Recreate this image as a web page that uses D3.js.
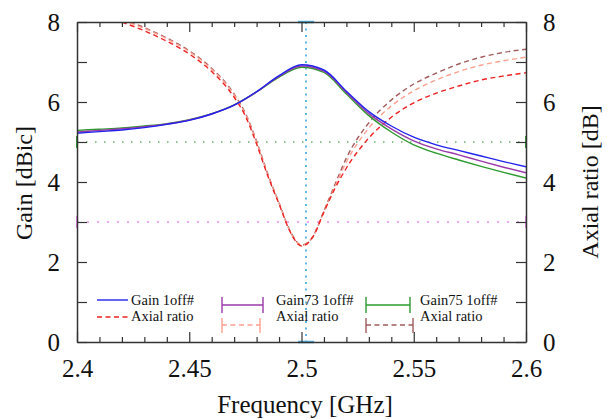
<!DOCTYPE html>
<html>
  <head>
    <script src="https://d3js.org/d3.v7.min.js"></script>
    <style>
      body { margin: 0; background: #fff; }
      svg text { font-family: "Liberation Serif", "Times New Roman", serif; }
    </style>
  </head>
  <body>
    <svg id="chart" width="615" height="419"></svg>
    <script>
      // frequency grid for the gain curves [GHz]
      const freqGain = [2.40, 2.41, 2.42, 2.43, 2.44, 2.45, 2.46, 2.47, 2.48, 2.49, 2.50,
                        2.51, 2.52, 2.53, 2.54, 2.55, 2.56, 2.57, 2.58, 2.59, 2.60];
      const gain1  = [5.22, 5.26, 5.30, 5.36, 5.44, 5.54, 5.70, 5.92, 6.26, 6.66, 6.93,
                      6.80, 6.27, 5.76, 5.40, 5.12, 4.93, 4.79, 4.65, 4.51, 4.38];
      const gain73 = [5.25, 5.29, 5.33, 5.38, 5.45, 5.55, 5.70, 5.92, 6.25, 6.64, 6.90,
                      6.77, 6.24, 5.71, 5.33, 5.03, 4.83, 4.68, 4.52, 4.37, 4.23];
      const gain75 = [5.29, 5.32, 5.35, 5.40, 5.46, 5.56, 5.71, 5.93, 6.25, 6.62, 6.87,
                      6.74, 6.20, 5.66, 5.25, 4.93, 4.72, 4.55, 4.39, 4.24, 4.10];

      // frequency grid for the axial ratio curves [GHz]
      const freqAR = [2.42, 2.43, 2.44, 2.45, 2.46, 2.47, 2.475, 2.48, 2.485, 2.49, 2.495, 2.50,
                      2.505, 2.51, 2.515, 2.52, 2.53, 2.54, 2.55, 2.56, 2.57, 2.58, 2.59, 2.60];
      const ar1  = [8.00, 7.78, 7.52, 7.20, 6.76, 6.12, 5.65, 4.95, 4.15, 3.45, 2.75, 2.40,
                    2.62, 3.25, 3.85, 4.35, 5.10, 5.62, 5.98, 6.22, 6.40, 6.55, 6.65, 6.73];
      const ar73 = [8.05, 7.84, 7.58, 7.26, 6.82, 6.18, 5.70, 5.00, 4.18, 3.47, 2.75, 2.42,
                    2.62, 3.25, 3.90, 4.50, 5.35, 5.90, 6.28, 6.55, 6.76, 6.92, 7.03, 7.12];
      const ar75 = [8.08, 7.86, 7.60, 7.28, 6.84, 6.20, 5.72, 5.02, 4.20, 3.48, 2.77, 2.42,
                    2.63, 3.28, 3.95, 4.60, 5.48, 6.05, 6.45, 6.72, 6.95, 7.12, 7.24, 7.32];

      const yLabels = [0, 2, 4, 6, 8];
      const gainRef = 5;      // dotted green line [dBic]
      const arRef = 3;        // dotted pink line [dB]
      const centerFreq = 2.502;

      const svg = d3.select("#chart");
      const pLeft = 77, pRight = 526, pTop = 22, pBottom = 342;
      const serif = '"Liberation Serif", "Times New Roman", serif';

      const x = d3.scaleLinear().domain([2.4, 2.6]).range([pLeft, pRight]);
      const yG = d3.scaleLinear().domain([0, 8]).range([pBottom, pTop]);
      const yA = d3.scaleLinear().domain([0, 8]).range([pBottom, pTop]);

      svg.append("clipPath").attr("id", "plotClip")
        .append("rect").attr("x", pLeft).attr("y", pTop)
        .attr("width", pRight - pLeft).attr("height", pBottom - pTop);

      // reference lines
      svg.append("line")
        .attr("x1", pLeft).attr("x2", pRight)
        .attr("y1", yG(gainRef)).attr("y2", yG(gainRef))
        .attr("stroke", "#1e8a1e").attr("stroke-width", 1.2)
        .attr("stroke-dasharray", "1.5,7.5");
      svg.append("line")
        .attr("x1", pLeft).attr("x2", pRight)
        .attr("y1", yA(arRef)).attr("y2", yA(arRef))
        .attr("stroke", "#f08cf0").attr("stroke-width", 1.4)
        .attr("stroke-dasharray", "2,8");
      svg.append("line")
        .attr("x1", x(centerFreq)).attr("x2", x(centerFreq))
        .attr("y1", pTop).attr("y2", pBottom)
        .attr("stroke", "#4fb0e0").attr("stroke-width", 1.8)
        .attr("stroke-dasharray", "2,4.5");

      // little caps of the reference lines on the axes
      [[pLeft, yG(gainRef), "#3aa03a"], [pRight, yG(gainRef), "#3aa03a"],
       [pLeft, yA(arRef), "#f08cf0"], [pRight, yA(arRef), "#f08cf0"]].forEach(c => {
        svg.append("line")
          .attr("x1", c[0]).attr("x2", c[0])
          .attr("y1", c[1] - 6).attr("y2", c[1] + 6)
          .attr("stroke", c[2]).attr("stroke-width", 2);
      });
      [pTop, pBottom].forEach(yy => {
        svg.append("line")
          .attr("x1", x(centerFreq) - 8).attr("x2", x(centerFreq) + 8)
          .attr("y1", yy).attr("y2", yy)
          .attr("stroke", "#4fb0e0").attr("stroke-width", 2.5);
      });

      const plot = svg.append("g").attr("clip-path", "url(#plotClip)");

      const gainLine = d3.line().x(d => x(d[0])).y(d => yG(d[1])).curve(d3.curveMonotoneX);
      const arLine = d3.line().x(d => x(d[0])).y(d => yA(d[1])).curve(d3.curveMonotoneX);

      const arSeries = [
        { vals: ar75, color: "#a05a5a" },
        { vals: ar73, color: "#ff9f90" },
        { vals: ar1,  color: "#ee2222" }
      ];
      arSeries.forEach(s => {
        plot.append("path")
          .datum(freqAR.map((f, i) => [f, s.vals[i]]))
          .attr("fill", "none")
          .attr("stroke", s.color)
          .attr("stroke-width", 1.4)
          .attr("stroke-dasharray", "5,3.5")
          .attr("d", arLine);
      });

      const gainSeries = [
        { vals: gain75, color: "#2e9a2e" },
        { vals: gain73, color: "#9a3aaa" },
        { vals: gain1,  color: "#2222ee" }
      ];
      gainSeries.forEach(s => {
        plot.append("path")
          .datum(freqGain.map((f, i) => [f, s.vals[i]]))
          .attr("fill", "none")
          .attr("stroke", s.color)
          .attr("stroke-width", 1.4)
          .attr("d", gainLine);
      });

      // axes
      const axisColor = "#333";
      const xTicks = d3.range(0, 21).map(i => 2.4 + i * 0.01);
      const isMajor = v => Math.abs(v * 20 - Math.round(v * 20)) < 1e-6;

      const xb = svg.append("g").attr("transform", `translate(0,${pBottom})`)
        .call(d3.axisBottom(x).tickValues(xTicks).tickSizeOuter(0)
          .tickFormat(v => isMajor(v) ? d3.format(".3~f")(v) : ""));
      xb.selectAll(".tick line").attr("y2", d => isMajor(d) ? -10 : -5);
      xb.selectAll(".tick text").attr("y", 35).attr("dy", null);

      const xt = svg.append("g").attr("transform", `translate(0,${pTop})`)
        .call(d3.axisTop(x).tickValues(xTicks).tickSizeOuter(0).tickFormat(""));
      xt.selectAll(".tick line").attr("y2", d => isMajor(d) ? 10 : 5);

      const yTicks = d3.range(0, 9);
      const yl = svg.append("g").attr("transform", `translate(${pLeft},0)`)
        .call(d3.axisLeft(yG).tickValues(yTicks).tickSizeOuter(0)
          .tickFormat(v => yLabels.includes(v) ? v : ""));
      yl.selectAll(".tick line").attr("x2", 10);
      yl.selectAll(".tick text").attr("x", -17);

      const yr = svg.append("g").attr("transform", `translate(${pRight},0)`)
        .call(d3.axisRight(yA).tickValues(yTicks).tickSizeOuter(0)
          .tickFormat(v => yLabels.includes(v) ? v : ""));
      yr.selectAll(".tick line").attr("x2", -10);
      yr.selectAll(".tick text").attr("x", 17);

      [xb, xt, yl, yr].forEach(g => {
        g.attr("font-family", serif).attr("font-size", 25);
        g.select(".domain").attr("stroke", axisColor).attr("stroke-width", 1.5);
        g.selectAll(".tick line").attr("stroke", axisColor).attr("stroke-width", 1.2);
        g.selectAll(".tick text").attr("fill", "#111")
          .style("font-family", serif).style("font-size", "25px");
      });

      // axis titles
      const titles = svg.append("g").style("font-family", serif)
        .attr("fill", "#111").attr("text-anchor", "middle");
      titles.append("text")
        .attr("x", 305).attr("y", 413).style("font-size", "25px")
        .text("Frequency [GHz]");
      titles.append("text")
        .attr("transform", "translate(32,183) rotate(-90)").style("font-size", "24px")
        .text("Gain [dBic]");
      titles.append("text")
        .attr("transform", "translate(598,182) rotate(-90)").style("font-size", "24px")
        .text("Axial ratio [dB]");

      // legend
      const legend = svg.append("g").style("font-family", serif)
        .style("font-size", "14.5px").attr("fill", "#111");

      legend.append("line").attr("x1", 97).attr("x2", 128).attr("y1", 300).attr("y2", 300)
        .attr("stroke", "#2222ee").attr("stroke-width", 1.4);
      legend.append("line").attr("x1", 97).attr("x2", 128).attr("y1", 317).attr("y2", 317)
        .attr("stroke", "#ee2222").attr("stroke-width", 1.4).attr("stroke-dasharray", "5,3.5");
      legend.append("text").attr("x", 131).attr("y", 305).text("Gain 1off#");
      legend.append("text").attr("x", 131).attr("y", 321).text("Axial ratio");

      const barKeys = [
        { x0: 222, x1: 263, x2: 260, solid: "#9a3aaa", dash: "#ff9f90", label: "Gain73 1off#", tx: 276 },
        { x0: 366, x1: 410, x2: 413, solid: "#2e9a2e", dash: "#a05a5a", label: "Gain75 1off#", tx: 420 }
      ];
      barKeys.forEach(k => {
        const g = legend.append("g");
        g.append("line").attr("x1", k.x0).attr("x2", k.x1).attr("y1", 305).attr("y2", 305)
          .attr("stroke", k.solid).attr("stroke-width", 1.4);
        [k.x0, k.x1].forEach(cx => g.append("line")
          .attr("x1", cx).attr("x2", cx).attr("y1", 297).attr("y2", 313)
          .attr("stroke", k.solid).attr("stroke-width", 1.4));
        g.append("line").attr("x1", k.x0).attr("x2", k.x2).attr("y1", 325).attr("y2", 325)
          .attr("stroke", k.dash).attr("stroke-width", 1.4).attr("stroke-dasharray", "5,3.5");
        [k.x0, k.x2].forEach(cx => g.append("line")
          .attr("x1", cx).attr("x2", cx).attr("y1", 318).attr("y2", 333)
          .attr("stroke", k.dash).attr("stroke-width", 1.4));
        g.append("text").attr("x", k.tx).attr("y", 305).text(k.label);
        g.append("text").attr("x", k.tx).attr("y", 321).text("Axial ratio");
      });
    </script>
  </body>
</html>
